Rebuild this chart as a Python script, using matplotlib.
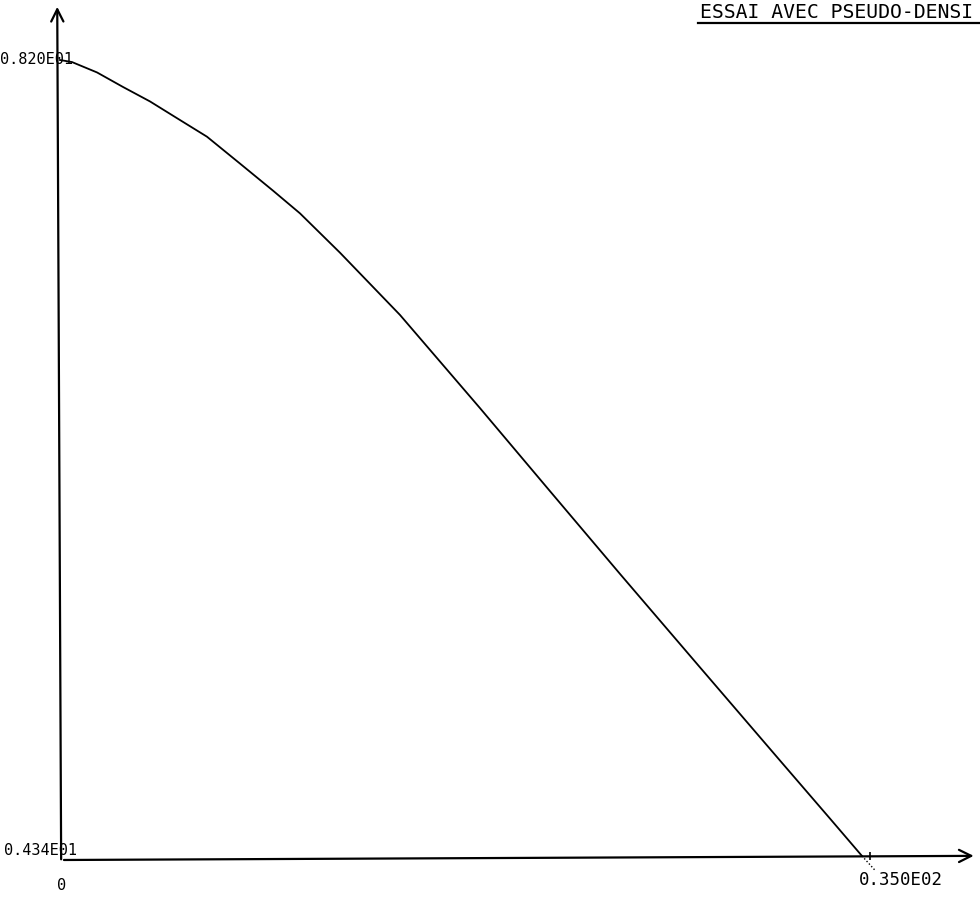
import matplotlib
matplotlib.use("Agg")
import matplotlib.pyplot as plt
from matplotlib.lines import Line2D

# curve (x from 0 to 35, y from 4.34 to 8.20)
x_vals = [0.0, 0.52, 1.60, 2.72, 3.89, 5.19, 6.35, 7.78, 9.20, 10.37, 12.10,
          14.69, 18.15, 21.17, 24.20, 27.65, 31.11, 33.27, 34.65]
y_vals = [8.20, 8.19, 8.14, 8.07, 8.00, 7.91, 7.83, 7.70, 7.57, 7.46, 7.27,
          6.97, 6.52, 6.12, 5.72, 5.27, 4.82, 4.54, 4.36]
# short dotted run past the x axis
x_tail = [34.65, 35.22]
y_tail = [4.36, 4.29]

x_min, x_max = 0.0, 35.0
y_min, y_max = 4.34, 8.20
y_labels = ["0.434E01", "0.820E01"]
x_labels = ["0", "0.350E02"]
title = "ESSAI AVEC PSEUDO-DENSI"

W, H = 980, 898
fig = plt.figure(figsize=(W / 100, H / 100), dpi=100)
ax = fig.add_axes([60 / W, (H - 860) / H, 810 / W, 800 / H])
ax.set_xlim(x_min, x_max)
ax.set_ylim(y_min, y_max)
for s in ax.spines.values():
    s.set_visible(False)

mono = "DejaVu Sans Mono"

# the curve
ax.plot(x_vals, y_vals, color="black", lw=1.3, clip_on=False)
ax.plot(x_tail, y_tail, color="black", lw=1.0, ls=(0, (1, 1.5)),
        clip_on=False)

# axes with arrows
arrow = dict(arrowstyle="->", lw=1.6, color="black", mutation_scale=22)
ax.annotate("", xy=(-0.12, 8.47), xytext=(0.05, y_min - 0.01),
            arrowprops=arrow, annotation_clip=False)
ax.annotate("", xy=(39.6, y_min + 0.02), xytext=(0.05, y_min),
            arrowprops=arrow, annotation_clip=False)

# single tick at x max
ax.set_xticks([x_max])
ax.set_yticks([])
ax.tick_params(axis="x", direction="in", length=6, width=1.2,
               labelbottom=False)

# axis value labels
ax.text(0.55, y_max, y_labels[1], ha="right", va="center",
        fontsize=11, family=mono, clip_on=False)
ax.text(0.75, y_min + 0.045, y_labels[0], ha="right", va="center",
        fontsize=11, family=mono, clip_on=False)
ax.text(0.05, y_min - 0.125, x_labels[0], ha="center", va="center",
        fontsize=11, family=mono, clip_on=False)
ax.text(34.5, y_min - 0.095, x_labels[1], ha="left", va="center",
        fontsize=12.5, family=mono, clip_on=False)

# underlined title in the upper right corner
fig.text(700 / W, 1 - 3 / H, title, ha="left", va="top",
         fontsize=14.2, family=mono)
fig.add_artist(Line2D([698 / W, 1.0], [1 - 23 / H, 1 - 23 / H],
                      color="black", lw=1.6, transform=fig.transFigure))

fig.savefig("out.png", dpi=100, facecolor="white")
